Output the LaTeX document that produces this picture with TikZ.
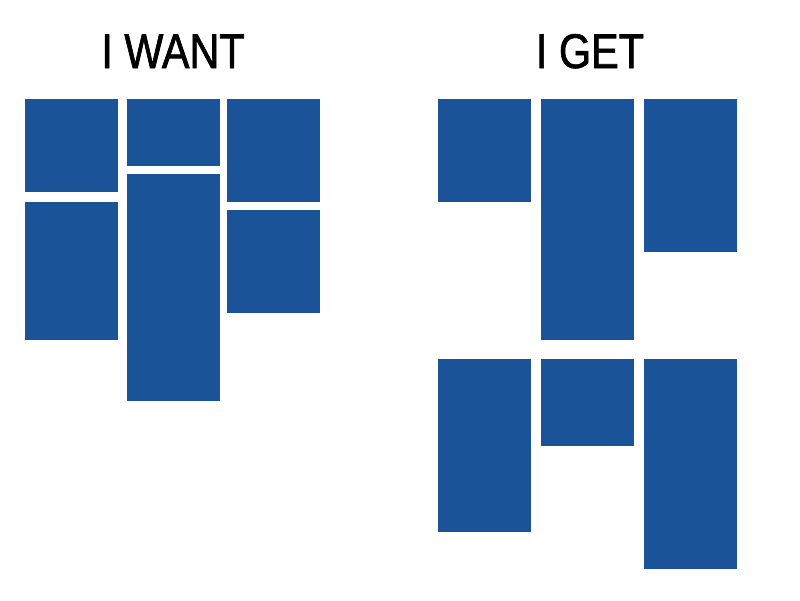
\documentclass[tikz,border=0pt]{standalone}
\usepackage{fontspec}
\newfontfamily\titlefont[FakeStretch=0.85, FakeBold=1.3]{Liberation Sans}
\usepackage{xcolor}
\definecolor{tileblue}{RGB}{26,83,151}

\begin{document}
\begin{tikzpicture}[
    x=0.02cm, y=-0.02cm,
    tile/.style={fill=tileblue},
    title/.style={font=\titlefont\fontsize{27.7}{30}\selectfont, inner sep=0, anchor=base}
  ]
\useasboundingbox (0,0) rectangle (800,600);

% Titles
\node[title] (want) at (173,68) {I WANT};
\node[title] (get) at (590,68) {I GET};

% I want
\fill[tile] (25,99) rectangle (118,192);
\fill[tile] (25,202) rectangle (118,340);
\fill[tile] (127,99) rectangle (220,166);
\fill[tile] (127,174) rectangle (220,401);
\fill[tile] (227,99) rectangle (320,202);
\fill[tile] (227,210) rectangle (320,313);

% I get
\fill[tile] (438,99) rectangle (531,202);
\fill[tile] (438,359) rectangle (531,532);
\fill[tile] (541,99) rectangle (634,340);
\fill[tile] (541,359) rectangle (634,446);
\fill[tile] (644,99) rectangle (737,252);
\fill[tile] (644,359) rectangle (737,569);

\end{tikzpicture}
\end{document}
